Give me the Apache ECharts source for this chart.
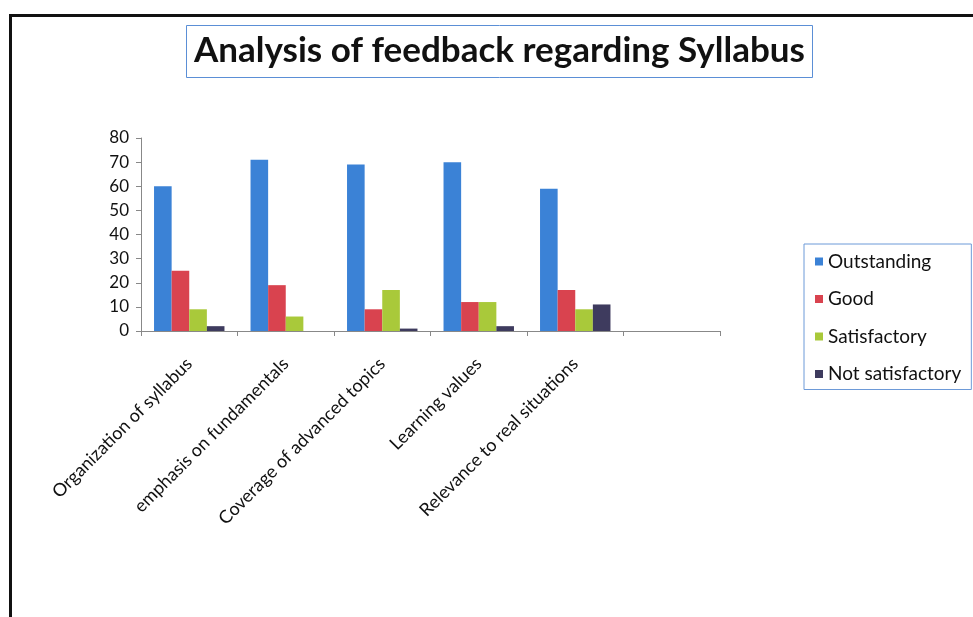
<!DOCTYPE html>
<html>
<head>
<meta charset="utf-8">
<script src="https://cdn.jsdelivr.net/npm/echarts@6/dist/echarts.min.js"></script>
<style>
html,body{margin:0;padding:0;background:#fff;}
#chart{width:973px;height:617px;}
</style>
</head>
<body>
<div id="chart"></div>
<script>
const categories = ['Organization of syllabus', 'emphasis on fundamentals', 'Coverage of advanced topics', 'Learning values', 'Relevance to real situations', ''];
const outstanding = [60, 71, 69, 70, 59, null];
const good = [25, 19, 9, 12, 17, null];
const satisfactory = [9, 6, 17, 12, 9, null];
const notSatisfactory = [2, 0, 1, 2, 11, null];
const seriesNames = ['Outstanding', 'Good', 'Satisfactory', 'Not satisfactory'];
const yTicks = { min: 0, max: 80, interval: 10 };

const colors = ['#3b82d6', '#d9434f', '#a9c93a', '#3e3b5e'];
const font = 'Lato, "Open Sans", sans-serif';
const chart = echarts.init(document.getElementById('chart'));
const dataSets = [outstanding, good, satisfactory, notSatisfactory];

chart.setOption({
  animation: false,
  backgroundColor: '#fff',
  color: colors,
  graphic: [{
    type: 'rect', left: 8, top: 13, z: -1,
    shape: { width: 1000, height: 700 },
    style: { fill: 'none', stroke: '#111', lineWidth: 3 }
  }],
  title: {
    text: 'Analysis of feedback regarding Syllabus',
    left: 186, top: 25,
    padding: [6, 8, 7, 8],
    borderColor: '#5b8fd6', borderWidth: 1, backgroundColor: '#fff',
    textStyle: { fontFamily: font, fontWeight: 'bold', fontSize: 35, lineHeight: 40, color: '#111' }
  },
  legend: {
    orient: 'vertical',
    left: 804, top: 244,
    padding: [8, 10, 6, 11],
    itemWidth: 8, itemHeight: 8, itemGap: 18.5,
    borderColor: '#6d9ad8', borderWidth: 1,
    icon: 'rect',
    textStyle: { fontFamily: font, fontSize: 19, color: '#111' },
    data: seriesNames
  },
  grid: { left: 141, right: 253, top: 138, bottom: 286, containLabel: false },
  xAxis: {
    type: 'category',
    data: categories,
    axisLine: { lineStyle: { color: '#888', width: 1 } },
    axisTick: { show: true, length: 5, lineStyle: { color: '#888' } },
    axisLabel: { rotate: 45, interval: 0, margin: 30, fontFamily: font, fontSize: 18, color: '#111' }
  },
  yAxis: {
    type: 'value',
    min: yTicks.min, max: yTicks.max, interval: yTicks.interval,
    axisLine: { show: true, lineStyle: { color: '#888' } },
    axisTick: { show: true, length: 5, lineStyle: { color: '#888' } },
    splitLine: { show: false },
    axisLabel: { fontFamily: font, fontSize: 17, color: '#111', margin: 12 }
  },
  series: seriesNames.map((n, i) => ({
    name: n, type: 'bar', data: dataSets[i],
    barGap: '0%', barCategoryGap: '27%',
    itemStyle: { color: colors[i] }
  }))
});
</script>
</body>
</html>
